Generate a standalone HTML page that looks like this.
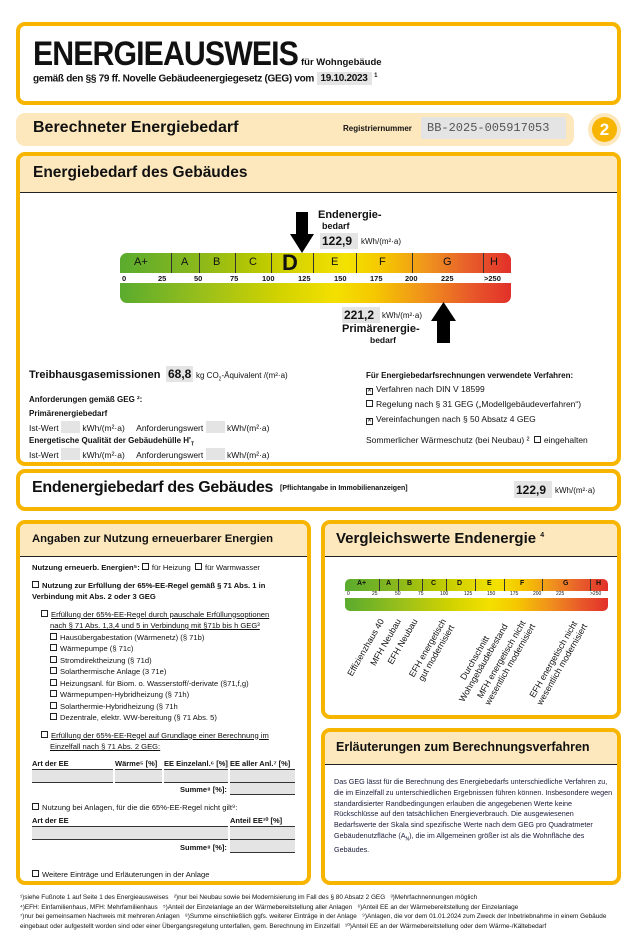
<!DOCTYPE html>
<html><head><meta charset="utf-8"><style>
*{margin:0;padding:0;box-sizing:border-box}
body{width:638px;height:942px;background:#fff;font-family:"Liberation Sans",sans-serif;color:#111;position:relative;overflow:hidden}
.a{position:absolute;white-space:nowrap}
.box{position:absolute;border:4px solid #f7b500;border-radius:9px;background:#fff}
.hd{position:absolute;left:0;right:0;top:0;background:#fde8bd;border-bottom:1.5px solid #222;border-radius:5px 5px 0 0}
.g{background:#e4e4e4}
.cb{display:inline-block;width:7px;height:7px;border:1px solid #222;margin-right:3px;vertical-align:0px}
.cx{display:inline-block;width:7px;height:7px;border:1px solid #222;margin-right:3px;font-size:6px;line-height:5px;text-align:center}
.seg{position:absolute;top:0;height:100%;border-left:1.3px solid #333}
.sl{position:absolute;font-size:11px;text-align:center}
.tk{position:absolute;font-size:7.5px;font-weight:bold}
.u{text-decoration:underline}
.fn{font-size:6.4px;line-height:9.5px}
.anc{position:absolute;width:0;height:0}
.rot{position:absolute;right:0;top:0;transform-origin:right top;transform:rotate(-60deg);font-size:8.8px;line-height:10px;text-align:center;white-space:nowrap}
</style></head><body>

<div class="box" style="left:16px;top:22px;width:605px;height:83px"></div>
<div class="a" style="left:33px;top:35px;font-size:34px;font-weight:bold;letter-spacing:-1px;transform:scaleX(0.89);transform-origin:left top">ENERGIEAUSWEIS</div>
<div class="a" style="left:301px;top:57px;font-size:9.5px;font-weight:bold">für Wohngebäude</div>
<div class="a" style="left:33px;top:73px;font-size:10px;font-weight:bold;letter-spacing:-0.3px">gemäß den §§ 79 ff. Novelle Gebäudeenergiegesetz (GEG) vom <span class="g" style="padding:1px 4px">19.10.2023</span> <sup style="font-size:6px">1</sup></div>

<div class="a" style="left:16px;top:113px;width:558px;height:33px;background:#fde8bd;border-radius:9px"></div>
<div class="a" style="left:33px;top:119px;font-size:16px;font-weight:bold">Berechneter Energiebedarf</div>
<div class="a" style="left:343px;top:124px;font-size:8px;font-weight:bold">Registriernummer</div>
<div class="a g" style="left:421px;top:117px;width:145px;height:22px;font-family:'Liberation Mono',monospace;font-size:12px;color:#555;padding:4px 6px">BB-2025-005917053</div>
<div class="a" style="left:588px;top:113px;width:33px;height:33px;border-radius:50%;background:#fde8bd"></div>
<div class="a" style="left:592px;top:117px;width:25px;height:25px;border-radius:50%;background:#f7b500;color:#fff;font-weight:bold;font-size:17px;text-align:center;line-height:25px">2</div>

<div class="box" style="left:16px;top:152px;width:605px;height:314px"><div class="hd" style="height:37px"></div></div>
<div class="a" style="left:33px;top:164px;font-size:15.5px;font-weight:bold">Energiebedarf des Gebäudes</div>

<div class="a" style="left:120px;top:253px;width:391px;height:20px;border-radius:7px 7px 0 0;overflow:hidden;background:linear-gradient(90deg,#5aab2e 0%,#8ab81c 20%,#b8c800 35%,#d9d400 45%,#f4e200 58%,#f5c400 68%,#f0961c 78%,#e8642a 88%,#e2302a 100%)">
<div class="seg" style="left:51px"></div><div class="seg" style="left:79px"></div><div class="seg" style="left:115px"></div><div class="seg" style="left:151px"></div><div class="seg" style="left:193px"></div><div class="seg" style="left:236px"></div><div class="seg" style="left:292px"></div><div class="seg" style="left:363px"></div>
<div class="sl" style="left:14px;top:3px">A+</div><div class="sl" style="left:61px;top:3px">A</div><div class="sl" style="left:93px;top:3px">B</div><div class="sl" style="left:129px;top:3px">C</div>
<div class="sl" style="left:162px;top:-3px;font-size:22px;font-weight:bold">D</div><div class="sl" style="left:211px;top:3px">E</div><div class="sl" style="left:259px;top:3px">F</div><div class="sl" style="left:323px;top:3px">G</div><div class="sl" style="left:370px;top:3px">H</div>
</div>
<div class="tk" style="left:122px;top:274px">0</div><div class="tk" style="left:158px;top:274px">25</div><div class="tk" style="left:194px;top:274px">50</div><div class="tk" style="left:230px;top:274px">75</div><div class="tk" style="left:262px;top:274px">100</div><div class="tk" style="left:298px;top:274px">125</div><div class="tk" style="left:334px;top:274px">150</div><div class="tk" style="left:370px;top:274px">175</div><div class="tk" style="left:405px;top:274px">200</div><div class="tk" style="left:441px;top:274px">225</div><div class="tk" style="left:484px;top:274px">&gt;250</div>
<div class="a" style="left:120px;top:283px;width:391px;height:20px;border-radius:0 0 7px 7px;background:linear-gradient(90deg,#5aab2e 0%,#9cc01a 22%,#d0d200 40%,#f4e000 55%,#f5c800 65%,#f0901c 78%,#e8582a 90%,#e2302a 100%)"></div>
<svg class="a" style="left:290px;top:212px" width="24" height="41"><polygon points="6,0 18,0 18,22 24,22 12,41 0,22 6,22" fill="#000"/></svg>
<div class="a" style="left:318px;top:210px;font-size:11px;font-weight:bold;line-height:11px">Endenergie-<br><span style="font-size:9px;padding-left:4px">bedarf</span></div>
<div class="a g" style="left:320px;top:233px;width:38px;height:16px;font-size:12px;font-weight:bold;padding:1px 2px">122,9</div>
<div class="a" style="left:361px;top:237px;font-size:8px">kWh/(m²·a)</div>
<svg class="a" style="left:431px;top:302px" width="25" height="41"><polygon points="12.5,0 25,19 19,19 19,41 6,41 6,19 0,19" fill="#000"/></svg>
<div class="a g" style="left:342px;top:307px;width:38px;height:16px;font-size:12px;font-weight:bold;padding:1px 2px">221,2</div>
<div class="a" style="left:382px;top:311px;font-size:8px">kWh/(m²·a)</div>
<div class="a" style="left:342px;top:324px;font-size:11px;font-weight:bold;line-height:11px">Primärenergie-<br><span style="font-size:8.5px;padding-left:28px">bedarf</span></div>

<div class="a" style="left:29px;top:369px;font-size:11px;font-weight:bold">Treibhausgasemissionen</div>
<div class="a g" style="left:166px;top:366px;width:27px;height:16px;font-size:12px;font-weight:bold;padding:1px 2px">68,8</div>
<div class="a" style="left:196px;top:371px;font-size:8px">kg CO<sub style="font-size:5px">2</sub>-Äquivalent /(m²·a)</div>
<div class="a" style="left:29px;top:395px;font-size:8px;font-weight:bold">Anforderungen gemäß GEG ²:</div>
<div class="a" style="left:29px;top:409px;font-size:8px;font-weight:bold">Primärenergiebedarf</div>
<div class="a" style="left:29px;top:421px;font-size:8.5px">Ist-Wert <span class="g" style="display:inline-block;width:19px;height:12px;vertical-align:-2px"></span> kWh/(m²·a) &nbsp;&nbsp;&nbsp; Anforderungswert <span class="g" style="display:inline-block;width:19px;height:12px;vertical-align:-2px"></span> kWh/(m²·a)</div>
<div class="a" style="left:29px;top:436px;font-size:8px;font-weight:bold">Energetische Qualität der Gebäudehülle H'<sub style="font-size:5px">T</sub></div>
<div class="a" style="left:29px;top:448px;font-size:8.5px">Ist-Wert <span class="g" style="display:inline-block;width:19px;height:12px;vertical-align:-2px"></span> kWh/(m²·a) &nbsp;&nbsp;&nbsp; Anforderungswert <span class="g" style="display:inline-block;width:19px;height:12px;vertical-align:-2px"></span> kWh/(m²·a)</div>
<div class="a" style="left:366px;top:371px;font-size:8px;font-weight:bold">Für Energiebedarfsrechnungen verwendete Verfahren:</div>
<div class="a" style="left:366px;top:384px;font-size:8.5px"><span class="cx">✕</span>Verfahren nach DIN V 18599</div>
<div class="a" style="left:366px;top:399px;font-size:8.5px"><span class="cb"></span>Regelung nach § 31 GEG („Modellgebäudeverfahren“)</div>
<div class="a" style="left:366px;top:414px;font-size:8.5px"><span class="cx">✕</span>Vereinfachungen nach § 50 Absatz 4 GEG</div>
<div class="a" style="left:366px;top:435px;font-size:8.5px">Sommerlicher Wärmeschutz (bei Neubau) ² <span class="cb" style="margin-left:2px"></span>eingehalten</div>

<div class="box" style="left:16px;top:469px;width:605px;height:42px"></div>
<div class="a" style="left:32px;top:479px;font-size:16px;font-weight:bold;letter-spacing:-0.3px">Endenergiebedarf des Gebäudes</div>
<div class="a" style="left:280px;top:485px;font-size:7px;font-weight:bold">[Pflichtangabe in Immobilienanzeigen]</div>
<div class="a g" style="left:514px;top:481px;width:38px;height:17px;font-size:12px;font-weight:bold;padding:2px 2px">122,9</div>
<div class="a" style="left:555px;top:486px;font-size:8px">kWh/(m²·a)</div>

<div class="box" style="left:16px;top:520px;width:295px;height:365px"><div class="hd" style="height:33px"></div></div>
<div class="a" style="left:32px;top:533px;font-size:11.3px;font-weight:bold">Angaben zur Nutzung erneuerbarer Energien</div>
<div style="position:absolute;left:32px;top:562px;font-size:7.6px;line-height:11.5px;width:270px">
<div><b>Nutzung erneuerb. Energien⁵:</b> <span class="cb"></span>für Heizung &nbsp;<span class="cb"></span>für Warmwasser</div>
<div style="margin-top:6px;font-weight:bold"><span class="cb"></span>Nutzung zur Erfüllung der 65%-EE-Regel gemäß § 71 Abs. 1 in Verbindung mit Abs. 2 oder 3 GEG</div>
<div style="margin-top:6px;padding-left:9px"><span class="cb"></span><span class="u">Erfüllung der 65%-EE-Regel durch pauschale Erfüllungsoptionen</span><br><span class="u" style="padding-left:9px">nach § 71 Abs. 1,3,4 und 5 in Verbindung mit §71b bis h GEG³</span></div>
<div style="padding-left:18px"><span class="cb"></span>Hausübergabestation (Wärmenetz) (§ 71b)<br><span class="cb"></span>Wärmepumpe (§ 71c)<br><span class="cb"></span>Stromdirektheizung (§ 71d)<br><span class="cb"></span>Solarthermische Anlage (3 71e)<br><span class="cb"></span>Heizungsanl. für Biom. o. Wasserstoff/-derivate (§71,f,g)<br><span class="cb"></span>Wärmepumpen-Hybridheizung (§ 71h)<br><span class="cb"></span>Solarthermie-Hybridheizung (§ 71h<br><span class="cb"></span>Dezentrale, elektr. WW-bereitung (§ 71 Abs. 5)</div>
<div style="margin-top:6px;padding-left:9px"><span class="cb"></span><span class="u">Erfüllung der 65%-EE-Regel auf Grundlage einer Berechnung im</span><br><span class="u" style="padding-left:9px">Einzelfall nach § 71 Abs. 2 GEG:</span></div>
</div>
<div class="a" style="left:32px;top:759px;font-size:7.5px;font-weight:bold">Art der EE</div>
<div class="a" style="left:115px;top:759px;font-size:7.5px;font-weight:bold">Wärme⁵ [%]</div>
<div class="a" style="left:164px;top:759px;font-size:7.5px;font-weight:bold">EE Einzelanl.⁶ [%] EE aller Anl.⁷ [%]</div>
<div class="a g" style="left:32px;top:769px;width:81px;height:14px;border-top:1px solid #333;border-bottom:1px solid #333"></div>
<div class="a g" style="left:115px;top:769px;width:47px;height:14px;border-top:1px solid #333;border-bottom:1px solid #333"></div>
<div class="a g" style="left:164px;top:769px;width:64px;height:14px;border-top:1px solid #333;border-bottom:1px solid #333"></div>
<div class="a g" style="left:230px;top:769px;width:65px;height:14px;border-top:1px solid #333;border-bottom:1px solid #333"></div>
<div class="a" style="left:180px;top:785px;font-size:7.5px;font-weight:bold">Summe⁸ [%]:</div>
<div class="a g" style="left:230px;top:783px;width:65px;height:12px;border-bottom:1px solid #333"></div>
<div class="a" style="left:32px;top:803px;font-size:7.6px"><span class="cb"></span>Nutzung bei Anlagen, für die die 65%-EE-Regel nicht gilt⁹:</div>
<div class="a" style="left:32px;top:816px;font-size:7.5px;font-weight:bold">Art der EE</div>
<div class="a" style="left:230px;top:816px;font-size:7.5px;font-weight:bold">Anteil EE¹⁰ [%]</div>
<div class="a g" style="left:32px;top:826px;width:196px;height:14px;border-top:1px solid #333;border-bottom:1px solid #333"></div>
<div class="a g" style="left:230px;top:826px;width:65px;height:14px;border-top:1px solid #333;border-bottom:1px solid #333"></div>
<div class="a" style="left:180px;top:843px;font-size:7.5px;font-weight:bold">Summe⁸ [%]:</div>
<div class="a g" style="left:230px;top:840px;width:65px;height:13px;border-bottom:1px solid #333"></div>
<div class="a" style="left:32px;top:870px;font-size:7.6px"><span class="cb"></span>Weitere Einträge und Erläuterungen in der Anlage</div>

<div class="box" style="left:321px;top:520px;width:300px;height:199px"><div class="hd" style="height:33px"></div></div>
<div class="a" style="left:336px;top:530px;font-size:15px;font-weight:bold">Vergleichswerte Endenergie <sup style="font-size:7px">4</sup></div>
<div class="a" style="left:345px;top:579px;width:263px;height:12px;border-radius:5px 5px 0 0;overflow:hidden;background:linear-gradient(90deg,#5aab2e 0%,#8ab81c 20%,#b8c800 35%,#d9d400 45%,#f4e200 58%,#f5c400 68%,#f0961c 78%,#e8642a 88%,#e2302a 100%);font-size:7px;font-weight:bold">
<div class="seg" style="left:34px"></div><div class="seg" style="left:53px"></div><div class="seg" style="left:77px"></div><div class="seg" style="left:101px"></div><div class="seg" style="left:130px"></div><div class="seg" style="left:159px"></div><div class="seg" style="left:197px"></div><div class="seg" style="left:245px"></div>
<span class="a" style="left:12px;top:1px">A+</span><span class="a" style="left:41px;top:1px">A</span><span class="a" style="left:62px;top:1px">B</span><span class="a" style="left:86px;top:1px">C</span><span class="a" style="left:112px;top:1px">D</span><span class="a" style="left:142px;top:1px">E</span><span class="a" style="left:175px;top:1px">F</span><span class="a" style="left:218px;top:1px">G</span><span class="a" style="left:251px;top:1px">H</span>
</div>
<div class="a" style="left:347px;top:591px;font-size:5px">0</div>
<div class="a" style="left:372px;top:591px;font-size:5px">25</div><div class="a" style="left:395px;top:591px;font-size:5px">50</div><div class="a" style="left:418px;top:591px;font-size:5px">75</div><div class="a" style="left:440px;top:591px;font-size:5px">100</div><div class="a" style="left:464px;top:591px;font-size:5px">125</div><div class="a" style="left:487px;top:591px;font-size:5px">150</div><div class="a" style="left:510px;top:591px;font-size:5px">175</div><div class="a" style="left:533px;top:591px;font-size:5px">200</div><div class="a" style="left:556px;top:591px;font-size:5px">225</div><div class="a" style="left:590px;top:591px;font-size:5px">&gt;250</div>
<div class="a" style="left:345px;top:598px;width:263px;height:13px;border-radius:0 0 5px 5px;background:linear-gradient(90deg,#5aab2e 0%,#9cc01a 22%,#d0d200 40%,#f4e000 55%,#f5c800 65%,#f0901c 78%,#e8582a 90%,#e2302a 100%)"></div>
<div class="anc" style="left:377px;top:617px"><div class="rot">Effizienzhaus 40</div></div>
<div class="anc" style="left:394px;top:617px"><div class="rot">MFH Neubau</div></div>
<div class="anc" style="left:411px;top:617px"><div class="rot">EFH Neubau</div></div>
<div class="anc" style="left:440px;top:617px"><div class="rot">EFH energetisch<br>gut modernisiert</div></div>
<div class="anc" style="left:492px;top:617px"><div class="rot">Durchschnitt<br>Wohngebäudebestand</div></div>
<div class="anc" style="left:520px;top:617px"><div class="rot">MFH energetisch nicht<br>wesentlich modernisiert</div></div>
<div class="anc" style="left:572px;top:617px"><div class="rot">EFH energetisch nicht<br>wesentlich modernisiert</div></div>

<div class="box" style="left:321px;top:728px;width:300px;height:157px"><div class="hd" style="height:33px"></div></div>
<div class="a" style="left:336px;top:740px;font-size:12.5px;font-weight:bold">Erläuterungen zum Berechnungsverfahren</div>
<div class="a" style="left:334px;top:777px;font-size:7.2px;line-height:10.8px;color:#1a1a3a;white-space:normal;width:284px">Das GEG lässt für die Berechnung des Energiebedarfs unterschiedliche Verfahren zu, die im Einzelfall zu unterschiedlichen Ergebnissen führen können. Insbesondere wegen standardisierter Randbedingungen erlauben die angegebenen Werte keine Rückschlüsse auf den tatsächlichen Energieverbrauch. Die ausgewiesenen Bedarfswerte der Skala sind spezifische Werte nach dem GEG pro Quadratmeter Gebäudenutzfläche (A<sub style="font-size:5px">N</sub>), die im Allgemeinen größer ist als die Wohnfläche des Gebäudes.</div>

<div class="a fn" style="left:20px;top:893px;white-space:normal;width:608px">¹)siehe Fußnote 1 auf Seite 1 des Energieausweises &nbsp; ²)nur bei Neubau sowie bei Modernisierung im Fall des § 80 Absatz 2 GEG &nbsp; ³)Mehrfachnennungen möglich<br>⁴)EFH: Einfamilienhaus, MFH: Mehrfamilienhaus &nbsp; ⁵)Anteil der Einzelanlage an der Wärmebereitstellung aller Anlagen &nbsp; ⁶)Anteil EE an der Wärmebereitstellung der Einzelanlage<br>⁷)nur bei gemeinsamen Nachweis mit mehreren Anlagen &nbsp; ⁸)Summe einschließlich ggfs. weiterer Einträge in der Anlage &nbsp; ⁹)Anlagen, die vor dem 01.01.2024 zum Zweck der Inbetriebnahme in einem Gebäude eingebaut oder aufgestellt worden sind oder einer Übergangsregelung unterfallen, gem. Berechnung im Einzelfall &nbsp; ¹⁰)Anteil EE an der Wärmebereitstellung oder dem Wärme-/Kältebedarf</div>
</body></html>
